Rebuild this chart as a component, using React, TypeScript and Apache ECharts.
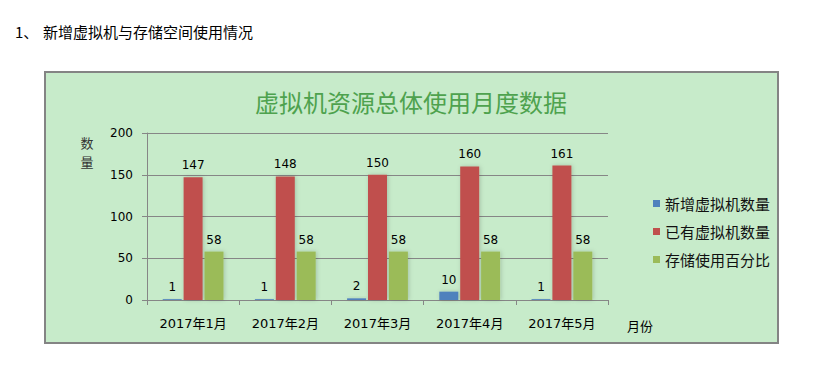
import React, { useEffect, useRef } from "react";
import * as echarts from "echarts";

const categories = ["2017年1月", "2017年2月", "2017年3月", "2017年4月", "2017年5月"];
const newVMs = [1, 1, 2, 10, 1];
const existingVMs = [147, 148, 150, 160, 161];
const storagePct = [58, 58, 58, 58, 58];
const seriesNames = ["新增虚拟机数量", "已有虚拟机数量", "存储使用百分比"];
const yTicks = { min: 0, max: 200, interval: 50 };

const NUM_FONT = "'DejaVu Sans', 'Noto Sans CJK SC', sans-serif";
const CJK_FONT = "'Noto Sans CJK SC', sans-serif";

export default function App() {
  const ref = useRef<HTMLDivElement>(null);
  useEffect(() => {
    const chart = echarts.init(ref.current!, null, { renderer: "svg" });
    const label = {
      show: true,
      position: "top" as const,
      distance: 6,
      color: "#000",
      fontSize: 12,
      fontFamily: NUM_FONT,
    };
    const shadow = {
      shadowBlur: 4,
      shadowColor: "rgba(0,0,0,0.18)",
      shadowOffsetX: 1,
      shadowOffsetY: 0,
    };
    const colors = ["#4f81bd", "#c0504d", "#9bbb59"];
    const datasets = [newVMs, existingVMs, storagePct];
    chart.setOption({
      animation: false,
      backgroundColor: "#ffffff",
      graphic: [
        {
          type: "rect",
          z: -10,
          shape: { x: 45, y: 72, width: 733, height: 271 },
          style: { fill: "#c7ebca", stroke: "#848484", lineWidth: 2 },
        },
        {
          type: "text",
          x: 15,
          y: 31,
          style: { text: "1、", fill: "#000", font: "15px " + CJK_FONT, textVerticalAlign: "middle" },
        },
        {
          type: "text",
          x: 43,
          y: 31,
          style: { text: "新增虚拟机与存储空间使用情况", fill: "#000", font: "15px " + CJK_FONT, textVerticalAlign: "middle" },
        },
        {
          type: "text",
          x: 411,
          y: 101,
          style: {
            text: "虚拟机资源总体使用月度数据",
            fill: "#4ea24e",
            font: "24px " + CJK_FONT,
            textAlign: "center",
            textVerticalAlign: "middle",
          },
        },
        {
          type: "text",
          x: 87,
          y: 142,
          style: { text: "数", fill: "#333", font: "13px " + CJK_FONT, textAlign: "center", textVerticalAlign: "middle" },
        },
        {
          type: "text",
          x: 87,
          y: 161,
          style: { text: "量", fill: "#333", font: "13px " + CJK_FONT, textAlign: "center", textVerticalAlign: "middle" },
        },
        {
          type: "text",
          x: 627,
          y: 325,
          style: { text: "月份", fill: "#000", font: "13px " + CJK_FONT, textVerticalAlign: "middle" },
        },
      ],
      legend: {
        orient: "vertical",
        left: 648,
        top: 191,
        itemWidth: 7,
        itemHeight: 7,
        itemGap: 13,
        icon: "rect",
        data: seriesNames,
        textStyle: { fontSize: 15, color: "#111", fontFamily: CJK_FONT },
      },
      grid: { left: 147, right: 221, top: 133, bottom: 84, containLabel: false },
      xAxis: {
        type: "category",
        data: categories,
        axisLine: { show: true, lineStyle: { color: "#868686", width: 1 } },
        axisTick: { show: true, length: 5, alignWithLabel: false, lineStyle: { color: "#868686" } },
        axisLabel: { margin: 17, color: "#000", fontSize: 13, fontFamily: NUM_FONT },
      },
      yAxis: {
        type: "value",
        min: yTicks.min,
        max: yTicks.max,
        interval: yTicks.interval,
        axisLine: { show: true, lineStyle: { color: "#868686", width: 1 } },
        axisTick: { show: true, length: 5, lineStyle: { color: "#868686" } },
        splitLine: { show: true, lineStyle: { color: "#868686", width: 1 } },
        axisLabel: { margin: 14, color: "#000", fontSize: 12, fontFamily: NUM_FONT },
      },
      series: seriesNames.map((name, i) => ({
        name,
        type: "bar",
        data: datasets[i],
        barWidth: 19,
        barGap: "10%",
        itemStyle: { color: colors[i], ...shadow },
        label,
      })),
    });
    return () => chart.dispose();
  }, []);
  return (
    <div
      ref={ref}
      style={{ position: "absolute", left: 0, top: 0, width: 829, height: 384 }}
    />
  );
}
